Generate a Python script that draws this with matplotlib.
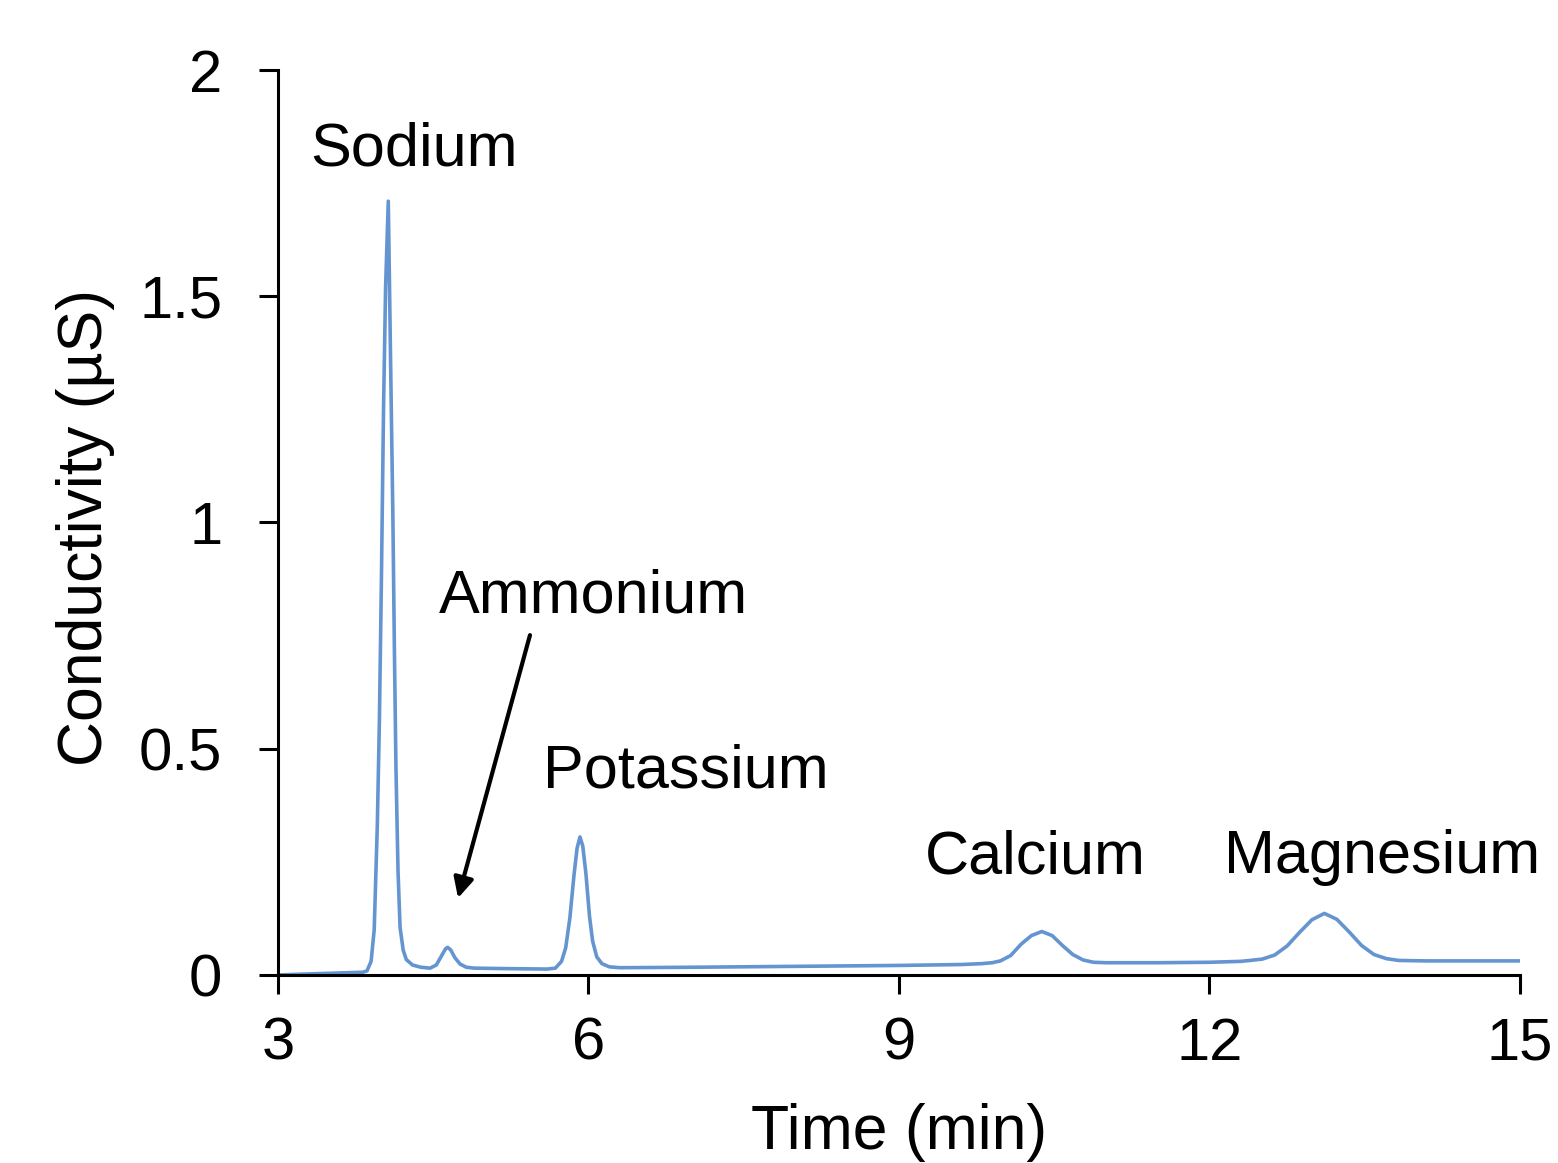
import matplotlib
matplotlib.use("Agg")
import matplotlib.pyplot as plt

plt.rcParams['font.family'] = ['Liberation Sans', 'DejaVu Sans']

# Chromatogram trace (time in min, conductivity in µS)
time_min = [3.00, 3.40, 3.82, 3.86, 3.90, 3.93, 3.96, 3.98, 4.00, 4.02, 4.04, 4.066,
            4.09, 4.11, 4.125, 4.14, 4.16, 4.18, 4.21, 4.24, 4.30, 4.38, 4.47, 4.53,
            4.58, 4.62, 4.64, 4.67, 4.71, 4.76, 4.82, 4.90, 5.20,
            5.60, 5.68, 5.74, 5.78, 5.82, 5.86, 5.89, 5.918, 5.945, 5.975, 6.01, 6.04,
            6.08, 6.13, 6.20, 6.30, 7.00, 8.00, 9.00, 9.60,
            9.80, 9.90, 9.98, 10.08, 10.18, 10.28, 10.38, 10.48, 10.58, 10.68, 10.78,
            10.88, 11.00, 11.50, 12.00, 12.30,
            12.39, 12.51, 12.63, 12.75, 12.87, 12.99, 13.11, 13.23, 13.35, 13.47, 13.59,
            13.71, 13.83, 14.10, 15.00]
conductivity = [0.000, 0.003, 0.006, 0.009, 0.030, 0.100, 0.330, 0.560, 0.880, 1.250, 1.520, 1.710,
                1.330, 1.020, 0.720, 0.460, 0.230, 0.105, 0.055, 0.034, 0.022, 0.017, 0.015, 0.022,
                0.042, 0.058, 0.061, 0.055, 0.038, 0.024, 0.017, 0.015, 0.014,
                0.013, 0.015, 0.030, 0.060, 0.125, 0.220, 0.280, 0.305, 0.285, 0.225, 0.130, 0.075,
                0.040, 0.025, 0.018, 0.016, 0.017, 0.019, 0.021, 0.023,
                0.025, 0.027, 0.031, 0.043, 0.068, 0.087, 0.096, 0.087, 0.065, 0.045, 0.033,
                0.028, 0.027, 0.027, 0.028, 0.030,
                0.032, 0.035, 0.044, 0.064, 0.094, 0.122, 0.136, 0.123, 0.095, 0.065, 0.045,
                0.036, 0.032, 0.031, 0.031]

peak_labels = ["Sodium", "Ammonium", "Potassium", "Calcium", "Magnesium"]
label_x = [3.31, 4.55, 5.56, 9.25, 12.14]
label_y = [1.79, 0.80, 0.415, 0.225, 0.225]

x_ticks = [3, 6, 9, 12, 15]
y_ticks = [0, 0.5, 1, 1.5, 2]
y_ticklabels = ["0", "0.5", "1", "1.5", "2"]

fig = plt.figure(figsize=(15.58, 11.63), dpi=100)
ax = fig.add_axes([0.1784, 0.1617, 0.7972, 0.7781])

ax.plot(time_min, conductivity, color='#6495D0', lw=2.6,
        solid_joinstyle='round', solid_capstyle='round')

ax.set_xlim(3, 15)
ax.set_ylim(0, 2)
ax.set_xticks(x_ticks)
ax.set_yticks(y_ticks)
ax.set_yticklabels(y_ticklabels)

for s in ['top', 'right']:
    ax.spines[s].set_visible(False)
for s in ['left', 'bottom']:
    ax.spines[s].set_linewidth(2.2)
    ax.spines[s].set_color('black')

ax.tick_params(axis='both', direction='out', length=14, width=2.2, labelsize=43, colors='black')
ax.tick_params(axis='x', pad=16)
ax.tick_params(axis='y', pad=26)

ax.set_xlabel("Time (min)", fontsize=45)
ax.xaxis.set_label_coords(0.5, -0.141)
ax.xaxis.label.set_va('top')
ax.set_ylabel("Conductivity (µS)", fontsize=45)
ax.yaxis.set_label_coords(-0.155, 0.495)
ax.yaxis.label.set_va('center')

for lab, lx, ly in zip(peak_labels, label_x, label_y):
    ax.text(lx, ly, lab, fontsize=44, ha='left', va='baseline')

ax.annotate('', xy=(4.74, 0.170), xytext=(5.435, 0.751),
            arrowprops=dict(arrowstyle='-|>', lw=3, color='black', mutation_scale=30,
                            shrinkA=0, shrinkB=0))

fig.savefig('out.png', dpi=100)
